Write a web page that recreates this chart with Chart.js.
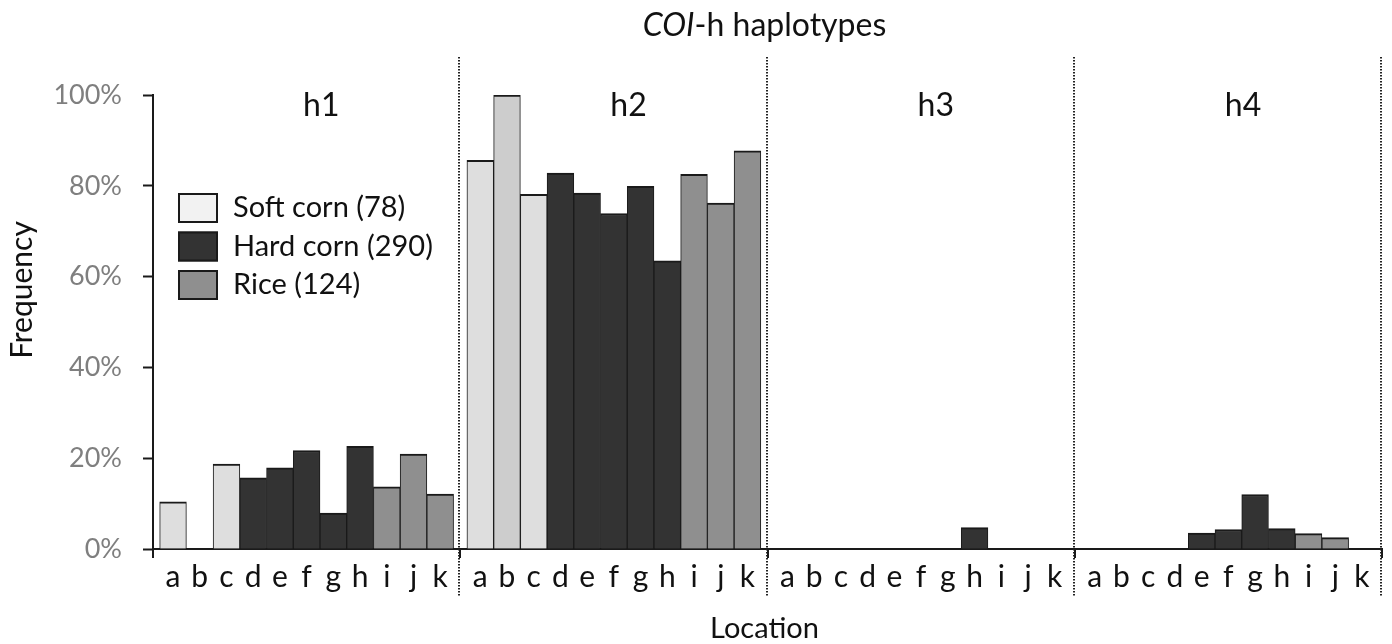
<!DOCTYPE html>
<html><head><meta charset="utf-8">
<script src="https://cdn.jsdelivr.net/npm/chart.js@4/dist/chart.umd.min.js"></script>
<style>html,body{margin:0;padding:0;background:#fff;}#wrap{width:1392px;height:644px;}</style>
</head><body><div id="wrap"><canvas id="c" width="1392" height="644"></canvas></div>
<script>
// ---- data ----
const haplotypes = ['h1', 'h2', 'h3', 'h4'];
const locations = ['a', 'b', 'c', 'd', 'e', 'f', 'g', 'h', 'i', 'j', 'k'];
const softLocs = ['a', 'b', 'c'];
const hardLocs = ['d', 'e', 'f', 'g', 'h'];
const riceLocs = ['i', 'j', 'k'];
// frequency (%) of each haplotype at locations a..k
const h1 = [10.4, 0, 18.7, 15.7, 17.9, 21.7, 7.9, 22.6, 13.7, 20.9, 12.1];
const h2 = [85.6, 100, 78.1, 82.8, 78.4, 73.9, 79.9, 63.5, 82.5, 76.2, 87.7];
const h3 = [0, 0, 0, 0, 0, 0, 0, 4.7, 0, 0, 0];
const h4 = [0, 0, 0, 0, 3.5, 4.3, 12.0, 4.5, 3.4, 2.5, 0];
const seriesNames = ['Soft corn (78)', 'Hard corn (290)', 'Rice (124)'];
const yTicks = [0, 20, 40, 60, 80, 100];

// ---- layout helpers ----
const FONT = 'Lato, "Open Sans", sans-serif';
const GROUP = 11.5, LEAD = 0.75;
const freq = [h1, h2, h3, h4];
const xPos = (g, i) => g * GROUP + LEAD + i;
function build(locs) {
  const pts = [];
  freq.forEach((arr, g) => locs.forEach(l => {
    const i = locations.indexOf(l);
    pts.push({x: xPos(g, i), y: arr[i]});
  }));
  return pts;
}
const tickPositions = [];
haplotypes.forEach((h, g) => locations.forEach((l, i) => tickPositions.push(xPos(g, i))));

const border = {top: 2, left: 1, right: 1, bottom: 0};
const legendFill = ['#f2f2f2', '#333333', '#8f8f8f'];
const datasets = [
  {label: seriesNames[0], data: build(softLocs),
   backgroundColor: c => (c.raw && c.raw.x === xPos(1, 1)) ? '#cdcdcd' : '#dedede'},
  {label: seriesNames[1], data: build(hardLocs), backgroundColor: '#333333'},
  {label: seriesNames[2], data: build(riceLocs), backgroundColor: '#8f8f8f'}
].map(d => Object.assign(d, {borderColor: '#1a1a1a', borderWidth: border, grouped: false,
  barPercentage: 1, categoryPercentage: 1}));

const deco = {
  id: 'deco',
  afterDraw(chart) {
    const {ctx, chartArea: ca, scales: {x}} = chart;
    ctx.save();
    // dotted separators between haplotype groups
    ctx.strokeStyle = '#222'; ctx.lineWidth = 2; ctx.setLineDash([1.5, 1.5]);
    for (let g = 1; g <= haplotypes.length; g++) {
      const px = Math.round(x.getPixelForValue(g * GROUP)) - 1;
      ctx.beginPath(); ctx.moveTo(px, ca.top - 38); ctx.lineTo(px, ca.bottom + 48); ctx.stroke();
    }
    ctx.setLineDash([]);
    // group boundary tick marks
    ctx.strokeStyle = '#1a1a1a'; ctx.lineWidth = 2;
    for (let g = 0; g <= haplotypes.length; g++) {
      const px = Math.round(x.getPixelForValue(g * GROUP));
      ctx.beginPath(); ctx.moveTo(px, ca.bottom); ctx.lineTo(px, ca.bottom + 9); ctx.stroke();
    }
    ctx.fillStyle = '#111';
    // group labels
    ctx.font = '32px ' + FONT; ctx.textAlign = 'center'; ctx.textBaseline = 'alphabetic';
    haplotypes.forEach((h, g) => {
      ctx.fillText(h, x.getPixelForValue(g * GROUP + GROUP / 2 + 0.55), ca.top + 21);
    });
    // title with italic COI
    const t1 = 'COI', t2 = '-h haplotypes';
    ctx.font = 'italic 32px ' + FONT; const w1 = ctx.measureText(t1).width;
    ctx.font = '32px ' + FONT; const w2 = ctx.measureText(t2).width;
    const cx = (ca.left + ca.right) / 2 - 3;
    const sx = cx - (w1 + w2) / 2;
    ctx.textAlign = 'left';
    ctx.font = 'italic 32px ' + FONT; ctx.fillText(t1, sx, 36);
    ctx.font = '32px ' + FONT; ctx.fillText(t2, sx + w1, 36);
    // axis titles
    ctx.font = '29px ' + FONT; ctx.textAlign = 'center';
    ctx.fillText('Location', cx, 638);
    ctx.save(); ctx.translate(22, 290); ctx.rotate(-Math.PI / 2);
    ctx.font = '30px ' + FONT;
    ctx.textBaseline = 'middle'; ctx.fillText('Frequency', 0, 0); ctx.restore();
    // legend
    const lx = ca.left + 25, ly = ca.top + 98, step = 38.5;
    seriesNames.forEach((n, k) => {
      const y0 = ly + k * step;
      ctx.fillStyle = legendFill[k]; ctx.fillRect(lx, y0, 40, 30);
      ctx.strokeStyle = '#1a1a1a'; ctx.lineWidth = 2; ctx.strokeRect(lx + 1, y0 + 1, 38, 28);
      ctx.fillStyle = '#111'; ctx.font = '29px ' + FONT; ctx.textAlign = 'left'; ctx.textBaseline = 'middle';
      ctx.fillText(n, lx + 55, y0 + 15);
    });
    ctx.restore();
  }
};

new Chart(document.getElementById('c'), {
  type: 'bar',
  data: {datasets},
  options: {
    responsive: false, animation: false,
    layout: {padding: {top: 95, left: 0, right: 10, bottom: 0}},
    plugins: {legend: {display: false}, tooltip: {enabled: false}, title: {display: false}},
    scales: {
      x: {
        type: 'linear', min: 0, max: haplotypes.length * GROUP, z: 1, offset: false,
        afterFit: s => { s.height = 95; },
        afterBuildTicks: s => { s.ticks = tickPositions.map(v => ({value: v})); },
        grid: {display: false, drawTicks: false, offset: false},
        border: {display: true, color: '#1a1a1a', width: 2},
        ticks: {autoSkip: false, maxRotation: 0, padding: 10, color: '#111',
          font: {family: FONT, size: 30},
          callback: (v, i) => locations[i % locations.length]}
      },
      y: {
        min: 0, max: 100, z: 1,
        afterFit: s => { s.width = 153; },
        afterBuildTicks: s => { s.ticks = yTicks.map(v => ({value: v})); },
        grid: {drawOnChartArea: false, drawTicks: true, tickLength: 10, tickWidth: 2, tickColor: '#1a1a1a'},
        border: {display: true, color: '#1a1a1a', width: 2},
        ticks: {padding: 21, color: '#7f7f7f', font: {family: FONT, size: 27},
          callback: v => v + '%'}
      }
    }
  },
  plugins: [deco]
});
</script>
</body></html>
